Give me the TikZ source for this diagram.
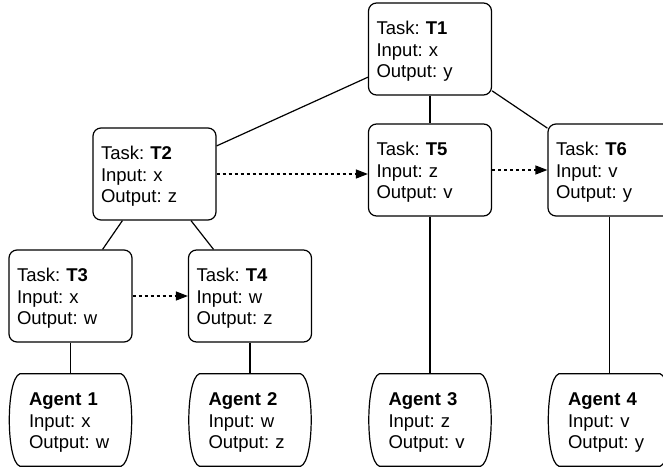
\documentclass[tikz,border=0pt]{standalone}
\usepackage{fontspec}
\setmainfont{Liberation Sans}
\usetikzlibrary{arrows.meta}
\newcommand{\toprule}{\rule{0pt}{18pt}}
\tikzset{
  ln/.style={line width=1.2pt, draw=black},
  boxfont/.style={font=\fontsize{18.5}{21.5}\selectfont\frenchspacing},
  taskbox/.style={ln, rounded corners=8pt, minimum height=92pt, text width=107pt,
    inner xsep=8pt, inner ysep=0pt, align=left, boxfont},
  agentbox/.style={minimum height=92pt, text width=83pt, inner xsep=20pt, inner ysep=0pt,
    align=left, boxfont},
  flow/.style={ln, dash pattern=on 3pt off 3pt, -{Triangle[length=12pt,width=9pt]}},
}
\begin{document}
\begin{tikzpicture}[x=1pt,y=-1pt]
\path[use as bounding box] (0,0) rectangle (663,468);
\clip (0,0) rectangle (663,468);
% task nodes
\node[taskbox] (T1) at (430,49) {\toprule Task: \textbf{T1}\\Input: x\\Output: y};
\node[taskbox] (T2) at (154.5,174) {\toprule Task: \textbf{T2}\\Input: x\\Output: z};
\node[taskbox] (T5) at (430,170) {\toprule Task: \textbf{T5}\\Input: z\\Output: v};
\node[taskbox] (T6) at (609.5,170) {\toprule Task: \textbf{T6}\\Input: v\\Output: y};
\node[taskbox] (T3) at (70.5,296) {\toprule Task: \textbf{T3}\\Input: x\\Output: w};
\node[taskbox] (T4) at (250,296) {\toprule Task: \textbf{T4}\\Input: w\\Output: z};
% agent nodes
\node[agentbox] (A1) at (70.5,420) {\toprule\textbf{Agent 1}\\Input: x\\Output: w};
\node[agentbox] (A2) at (250,420) {\toprule\textbf{Agent 2}\\Input: w\\Output: z};
\node[agentbox] (A3) at (430,420) {\toprule\textbf{Agent 3}\\Input: z\\Output: v};
\node[agentbox] (A4) at (609.5,420) {\toprule\textbf{Agent 4}\\Input: v\\Output: y};
\foreach \n in {A1,A2,A3,A4}{
  \draw[ln] ([xshift=11pt]\n.north west) -- ([xshift=-11pt]\n.north east)
    .. controls ([xshift=3pt,yshift=-5pt]\n.north east) and ([xshift=3pt,yshift=5pt]\n.south east) .. ([xshift=-11pt]\n.south east)
    -- ([xshift=11pt]\n.south west)
    .. controls ([xshift=-3pt,yshift=5pt]\n.south west) and ([xshift=-3pt,yshift=-5pt]\n.north west) .. cycle;
}
% tree connectors
\draw[ln] (T1) -- (T2);
\draw[ln] (T1) -- (T5);
\draw[ln] (T1) -- (T6);
\draw[ln] (T2) -- (T3);
\draw[ln] (T2) -- (T4);
\draw[ln] (T3) -- (A1);
\draw[ln] (T4) -- (A2);
\draw[ln] (T5) -- (A3);
\draw[ln] (T6) -- (A4);
% dotted flows
\draw[flow] (T2.east) -- (T2.east -| T5.west);
\draw[flow] (T5.east) -- (T6.west);
\draw[flow] (T3.east) -- (T4.west);
\end{tikzpicture}
\end{document}
